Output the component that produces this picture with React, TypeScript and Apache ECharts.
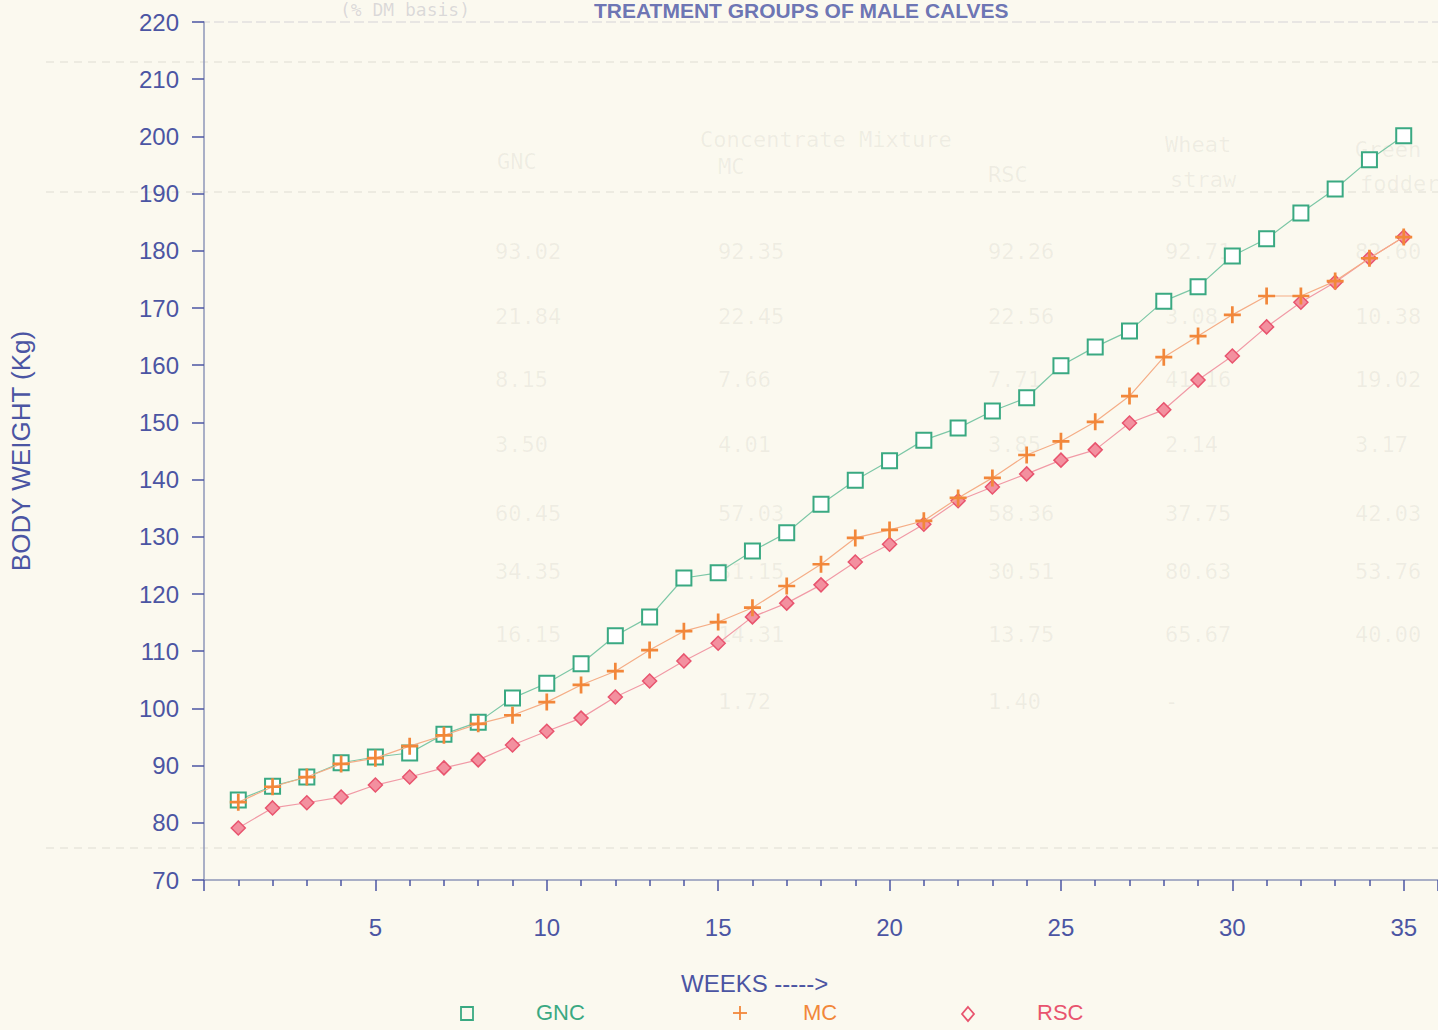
import React, { useEffect, useRef } from "react";
import * as echarts from "echarts";

const weeks = [1,2,3,4,5,6,7,8,9,10,11,12,13,14,15,16,17,18,19,20,21,22,23,24,25,26,27,28,29,30,31,32,33,34,35];
const gnc = [84.0,86.4,88.0,90.5,91.5,92.2,95.5,97.6,101.8,104.4,107.8,112.7,116.0,122.8,123.7,127.5,130.7,135.7,139.9,143.3,146.9,149.0,152.0,154.3,159.9,163.2,166.0,171.2,173.7,179.1,182.1,186.6,190.8,195.9,200.1];
const mc = [83.6,86.3,88.0,90.3,91.3,93.4,95.3,97.3,98.8,101.1,104.1,106.5,110.2,113.5,115.1,117.6,121.4,125.2,129.8,131.2,132.8,136.8,140.3,144.3,146.7,150.1,154.6,161.4,165.1,168.8,172.1,172.1,174.7,178.7,182.4];
const rsc = [79.1,82.6,83.5,84.5,86.6,88.0,89.6,91.0,93.6,96.0,98.3,102.0,104.8,108.3,111.4,116.0,118.4,121.6,125.6,128.7,132.2,136.3,138.7,141.0,143.4,145.2,149.9,152.2,157.4,161.6,166.7,171.0,174.5,178.7,182.4];
const seriesNames = ["GNC", "MC", "RSC"];
const yTitle = "BODY WEIGHT (Kg)";
const xTitle = "WEEKS ----->";
const pageTitle = "TREATMENT GROUPS OF MALE CALVES";

// faint bleed-through table from the reverse page (value columns and headers)
const ghostVals = [
  ["93.02","92.35","92.26","92.71","82.60"],
  ["21.84","22.45","22.56","3.08","10.38"],
  ["8.15","7.66","7.71","41.16","19.02"],
  ["3.50","4.01","3.85","2.14","3.17"],
  ["60.45","57.03","58.36","37.75","42.03"],
  ["34.35","31.15","30.51","80.63","53.76"],
  ["16.15","14.31","13.75","65.67","40.00"],
  ["","1.72","1.40","-",""],
];

const BLUE = "#4b55a3";
const GREEN = "#3aa982";
const ORANGE = "#f2873a";
const RED = "#e8546e";

const App: React.FC = () => {
  const ref = useRef<HTMLDivElement>(null);
  useEffect(() => {
    if (!ref.current) return;
    const chart = echarts.init(ref.current, null, { renderer: "svg" });
    const toPairs = (arr: number[]) => weeks.map((w, i) => [w, arr[i]]);

    const ghostFont = "22px 'DejaVu Sans Mono', monospace";
    const ghostColor = "rgba(120,120,110,0.09)";
    const ghost: any[] = [];
    const colX = [495, 718, 988, 1165, 1355];
    const rowY = [240, 305, 368, 433, 502, 560, 623, 690];
    ghostVals.forEach((row, i) => {
      row.forEach((v, j) => {
        if (v) ghost.push({ type: "text", left: colX[j], top: rowY[i], silent: true, style: { text: v, font: ghostFont, fill: ghostColor } });
      });
    });
    ghost.push({ type: "text", left: 700, top: 128, silent: true, style: { text: "Concentrate Mixture", font: ghostFont, fill: ghostColor } });
    ghost.push({ type: "text", left: 497, top: 150, silent: true, style: { text: "GNC", font: ghostFont, fill: ghostColor } });
    ghost.push({ type: "text", left: 718, top: 155, silent: true, style: { text: "MC", font: ghostFont, fill: ghostColor } });
    ghost.push({ type: "text", left: 988, top: 163, silent: true, style: { text: "RSC", font: ghostFont, fill: ghostColor } });
    ghost.push({ type: "text", left: 1165, top: 133, silent: true, style: { text: "Wheat", font: ghostFont, fill: ghostColor } });
    ghost.push({ type: "text", left: 1170, top: 168, silent: true, style: { text: "straw", font: ghostFont, fill: ghostColor } });
    ghost.push({ type: "text", left: 1355, top: 138, silent: true, style: { text: "Green", font: ghostFont, fill: ghostColor } });
    ghost.push({ type: "text", left: 1360, top: 172, silent: true, style: { text: "fodder", font: ghostFont, fill: ghostColor } });
    ghost.push({ type: "line", silent: true, shape: { x1: 46, y1: 62, x2: 1438, y2: 62 }, style: { stroke: "rgba(120,120,110,0.10)", lineWidth: 2, lineDash: [8, 6] } });
    ghost.push({ type: "line", silent: true, shape: { x1: 46, y1: 192, x2: 1438, y2: 192 }, style: { stroke: "rgba(120,120,110,0.10)", lineWidth: 2, lineDash: [8, 6] } });
    ghost.push({ type: "line", silent: true, shape: { x1: 46, y1: 848, x2: 1438, y2: 848 }, style: { stroke: "rgba(120,120,110,0.10)", lineWidth: 2, lineDash: [8, 6] } });
    ghost.push({ type: "line", silent: true, shape: { x1: 200, y1: 22, x2: 1438, y2: 22 }, style: { stroke: "rgba(110,115,150,0.18)", lineWidth: 1.5, lineDash: [10, 4] } });

    const legendY = 1015;
    const legendFont = "22px 'Liberation Sans', Arial, sans-serif";

    chart.setOption({
      animation: false,
      backgroundColor: "#fbf9ef",
      grid: { left: 200, right: -5, top: 22, bottom: 150, containLabel: false },
      xAxis: {
        type: "value",
        min: 0,
        max: 36,
        interval: 5,
        axisLine: { show: true, lineStyle: { color: "#8e96b8", width: 1.5 } },
        axisTick: { show: true, length: 11, lineStyle: { color: BLUE, width: 1.5 } },
        minorTick: { show: true, splitNumber: 5, length: 6, lineStyle: { color: BLUE, width: 1.5 } },
        splitLine: { show: false },
        axisLabel: {
          color: BLUE,
          fontSize: 24,
          fontFamily: "'Liberation Sans', Arial, sans-serif",
          margin: 35,
          showMinLabel: false,
          showMaxLabel: false,
          formatter: (v: number) => (v > 0 && v % 5 === 0 ? String(v) : ""),
        },
      },
      yAxis: {
        type: "value",
        min: 70,
        max: 220,
        interval: 10,
        name: yTitle,
        nameLocation: "middle",
        nameRotate: 90,
        nameGap: 170,
        nameTextStyle: { color: BLUE, fontSize: 26, fontFamily: "'Liberation Sans', Arial, sans-serif" },
        axisLine: { show: true, lineStyle: { color: "#8e96b8", width: 1.5 } },
        axisTick: { show: true, length: 12, lineStyle: { color: BLUE, width: 1.5 } },
        splitLine: { show: false },
        axisLabel: {
          color: BLUE,
          fontSize: 24,
          fontFamily: "'Liberation Sans', Arial, sans-serif",
          margin: 25,
        },
      },
      series: [
        {
          name: seriesNames[0],
          type: "line",
          data: toPairs(gnc),
          symbol: "emptyRect",
          symbolSize: 15,
          lineStyle: { color: "#7cc7a6", width: 1.2 },
          itemStyle: { color: GREEN, borderColor: GREEN, borderWidth: 1.8 },
          z: 3,
        },
        {
          name: seriesNames[1],
          type: "line",
          data: toPairs(mc),
          symbol: "path://M4.2,0H5.8V4.2H10V5.8H5.8V10H4.2V5.8H0V4.2H4.2Z",
          symbolSize: 17,
          lineStyle: { color: "#f5ad86", width: 1.2 },
          itemStyle: { color: ORANGE },
          z: 4,
        },
        {
          name: seriesNames[2],
          type: "line",
          data: toPairs(rsc),
          symbol: "diamond",
          symbolSize: 14,
          lineStyle: { color: "#f19aa6", width: 1.2 },
          itemStyle: { color: "#f3909f", borderColor: RED, borderWidth: 1.5 },
          z: 2,
        },
      ],
      graphic: [
        ...ghost,
        { type: "text", left: 594, top: 0, silent: true, style: { text: pageTitle, font: "bold 21px 'Liberation Sans', Arial, sans-serif", fill: "#5a64ac", opacity: 0.9 } },
        { type: "text", left: 340, top: 0, silent: true, style: { text: "(% DM basis)", font: "18px 'DejaVu Sans Mono', monospace", fill: "rgba(120,120,150,0.25)" } },
        { type: "text", left: 681, top: 971, silent: true, style: { text: xTitle, font: "24px 'Liberation Sans', Arial, sans-serif", fill: BLUE } },
        { type: "rect", silent: true, shape: { x: 461, y: 1007, width: 12, height: 13 }, style: { fill: "none", stroke: GREEN, lineWidth: 1.8 } },
        { type: "text", left: 536, top: legendY - 14, silent: true, style: { text: seriesNames[0], font: legendFont, fill: GREEN } },
        { type: "line", silent: true, shape: { x1: 733, y1: 1013, x2: 747, y2: 1013 }, style: { stroke: ORANGE, lineWidth: 1.8 } },
        { type: "line", silent: true, shape: { x1: 740, y1: 1006, x2: 740, y2: 1020 }, style: { stroke: ORANGE, lineWidth: 1.8 } },
        { type: "text", left: 803, top: legendY - 14, silent: true, style: { text: seriesNames[1], font: legendFont, fill: ORANGE } },
        { type: "polygon", silent: true, shape: { points: [[968, 1007], [974, 1014], [968, 1021], [962, 1014]] }, style: { fill: "none", stroke: RED, lineWidth: 1.8 } },
        { type: "text", left: 1037, top: legendY - 14, silent: true, style: { text: seriesNames[2], font: legendFont, fill: RED } },
      ],
    });
    return () => chart.dispose();
  }, []);
  return (
    <div
      ref={ref}
      style={{ position: "fixed", left: 0, top: 0, width: 1438, height: 1030 }}
    />
  );
};

export default App;
